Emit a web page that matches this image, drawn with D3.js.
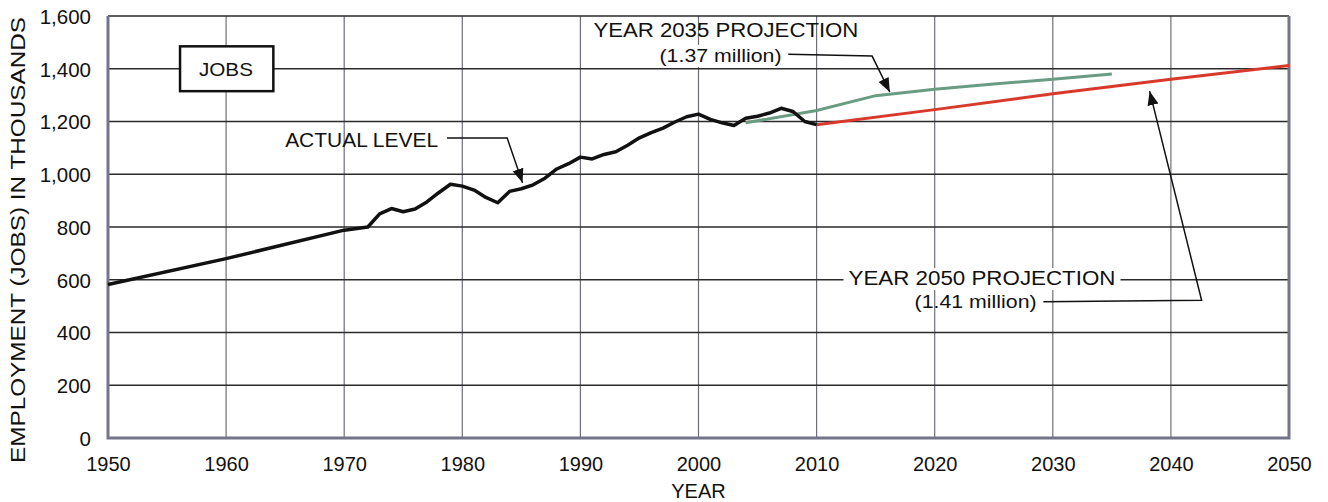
<!DOCTYPE html>
<html>
<head>
<meta charset="utf-8">
<script src="https://cdn.jsdelivr.net/npm/d3@7"></script>
<style>
  body { margin: 0; background: #ffffff; }
  text { font-family: "Liberation Sans", Arial, sans-serif; fill: #111; }
</style>
</head>
<body>
<div id="chart"></div>
<script>
// Data (thousands of jobs)
var actualYears = [1950, 1960, 1970, 1972, 1973, 1974, 1975, 1976, 1977, 1978, 1979, 1980, 1981, 1982, 1983,
    1984, 1985, 1986, 1987, 1988, 1989, 1990, 1991, 1992, 1993, 1994, 1995, 1996, 1997, 1998, 1999,
    2000, 2001, 2002, 2003, 2004, 2005, 2006, 2007, 2008, 2009, 2010];
var actualJobs = [582, 680, 788, 800, 850, 870, 858, 868, 895, 930, 962, 955, 940, 912, 892,
    935, 945, 960, 985, 1020, 1040, 1065, 1058, 1075, 1085, 1110, 1138, 1158, 1175, 1198, 1218,
    1228, 1208, 1195, 1185, 1212, 1220, 1232, 1250, 1238, 1200, 1188];

var proj2035Years = [2004, 2010, 2015, 2020, 2025, 2030, 2035];
var proj2035Jobs = [1195, 1242, 1298, 1322, 1342, 1360, 1380];

var proj2050Years = [2010, 2020, 2030, 2040, 2050];
var proj2050Jobs = [1188, 1245, 1305, 1360, 1412];

var xTicks = [1950, 1960, 1970, 1980, 1990, 2000, 2010, 2020, 2030, 2040, 2050];
var yTicks = [0, 200, 400, 600, 800, 1000, 1200, 1400, 1600];

// svg area and margins
var svgWidth = 1328;
var svgHeight = 502;
var margin = { top: 16, right: 39, bottom: 64, left: 108 };
var width = svgWidth - margin.left - margin.right;
var height = svgHeight - margin.top - margin.bottom;

var svg = d3.select("#chart")
    .append("svg")
    .attr("width", svgWidth)
    .attr("height", svgHeight);

var g = svg.append("g")
    .attr("transform", `translate(${margin.left}, ${margin.top})`);

var x = d3.scaleLinear().domain([1950, 2050]).range([0, width]);
var y = d3.scaleLinear().domain([0, 1600]).range([height, 0]);

// vertical grid
g.append("g")
    .selectAll("line")
    .data(xTicks)
    .enter()
    .append("line")
    .attr("x1", d => x(d)).attr("x2", d => x(d))
    .attr("y1", 0).attr("y2", height)
    .attr("stroke", "#6e6e78")
    .attr("stroke-width", 1.2);

// horizontal grid
g.append("g")
    .selectAll("line")
    .data(yTicks)
    .enter()
    .append("line")
    .attr("x1", 0).attr("x2", width)
    .attr("y1", d => y(d)).attr("y2", d => y(d))
    .attr("stroke", "#2a2a2a")
    .attr("stroke-width", 1.6);

// frame (left, bottom, right)
g.append("path")
    .attr("d", `M0,0 V${height} H${width} V0`)
    .attr("fill", "none")
    .attr("stroke", "#75758a")
    .attr("stroke-width", 3);

// axes
var xAxis = d3.axisBottom(x).tickValues(xTicks).tickFormat(d3.format("d")).tickSize(0).tickPadding(19);
var yAxis = d3.axisLeft(y).tickValues(yTicks).tickFormat(d3.format(",")).tickSize(0).tickPadding(17);

g.append("g")
    .attr("transform", `translate(0, ${height})`)
    .call(xAxis)
    .call(a => a.select(".domain").remove())
    .selectAll("text")
    .attr("font-size", "20px")
    .attr("font-family", "Liberation Sans, Arial, sans-serif")
    .attr("fill", "#111");

g.append("g")
    .call(yAxis)
    .call(a => a.select(".domain").remove())
    .selectAll("text")
    .attr("font-size", "20.5px")
    .attr("dy", "0.36em")
    .attr("font-family", "Liberation Sans, Arial, sans-serif")
    .attr("fill", "#111");

// axis titles
svg.append("text")
    .attr("x", margin.left + x(2000))
    .attr("y", 498)
    .style("text-anchor", "middle")
    .attr("font-size", "20px")
    .text("YEAR");

svg.append("text")
    .attr("transform", "rotate(-90)")
    .attr("x", -463)
    .attr("y", 25)
    .attr("font-size", "20px")
    .attr("textLength", 446)
    .attr("lengthAdjust", "spacingAndGlyphs")
    .text("EMPLOYMENT (JOBS) IN THOUSANDS");

// lines
var line = d3.line().x(d => x(d[0])).y(d => y(d[1]));

g.append("path")
    .datum(d3.zip(proj2050Years, proj2050Jobs))
    .attr("d", line)
    .attr("fill", "none")
    .attr("stroke", "#d8392b")
    .attr("stroke-width", 3);

g.append("path")
    .datum(d3.zip(proj2035Years, proj2035Jobs))
    .attr("d", line)
    .attr("fill", "none")
    .attr("stroke", "#6a9c84")
    .attr("stroke-width", 3);

g.append("path")
    .datum(d3.zip(actualYears, actualJobs))
    .attr("d", line)
    .attr("fill", "none")
    .attr("stroke", "#111")
    .attr("stroke-width", 3.5)
    .attr("stroke-linejoin", "round");

// JOBS box
g.append("rect")
    .attr("x", x(1956.1)).attr("y", y(1485))
    .attr("width", x(1964) - x(1956.1))
    .attr("height", y(1315) - y(1485))
    .attr("fill", "#fff")
    .attr("stroke", "#111")
    .attr("stroke-width", 2.5);

g.append("text")
    .attr("x", x(1957.7)).attr("y", y(1400) + 7)
    .attr("font-size", "19px")
    .attr("textLength", 54)
    .attr("lengthAdjust", "spacingAndGlyphs")
    .text("JOBS");

// annotations with leader arrows
svg.append("defs").append("marker")
    .attr("id", "arrow")
    .attr("viewBox", "0 0 10 10")
    .attr("refX", 10).attr("refY", 5)
    .attr("markerWidth", 14).attr("markerHeight", 14)
    .attr("markerUnits", "userSpaceOnUse")
    .attr("orient", "auto")
    .append("path")
    .attr("d", "M0,1 L10,5 L0,9 Z")
    .attr("fill", "#111");

function leader(points) {
    g.append("path")
        .datum(points)
        .attr("d", line)
        .attr("fill", "none")
        .attr("stroke", "#111")
        .attr("stroke-width", 1.5)
        .attr("marker-end", "url(#arrow)");
}

// text placed by its left edge (year) and baseline (value); len in px
function label(year, value, txt, size, len, pad) {
    if (pad) {
        g.append("rect")
            .attr("x", x(year) - pad).attr("y", y(value) - 17)
            .attr("width", len + 2 * pad).attr("height", 22)
            .attr("fill", "#fff");
    }
    g.append("text")
        .attr("x", x(year)).attr("y", y(value))
        .attr("font-size", size)
        .attr("textLength", len)
        .attr("lengthAdjust", "spacingAndGlyphs")
        .text(txt);
}

// actual level
label(1965.0, 1103, "ACTUAL LEVEL", "20px", 153);
leader([[1978.7, 1137], [1983.8, 1137], [1985.1, 968]]);

// 2035 projection
label(1991.1, 1520, "YEAR 2035 PROJECTION", "20px", 265);
label(1996.7, 1426, "(1.37 million)", "18px", 122, 4);
leader([[2007.6, 1455], [2014.7, 1448], [2016.2, 1312]]);

// 2050 projection
label(2012.7, 580, "YEAR 2050 PROJECTION", "20px", 267, 5);
label(2018.3, 493, "(1.41 million)", "18px", 122);
leader([[2029.2, 517], [2042.6, 522], [2038.2, 1315]]);
</script>
</body>
</html>
